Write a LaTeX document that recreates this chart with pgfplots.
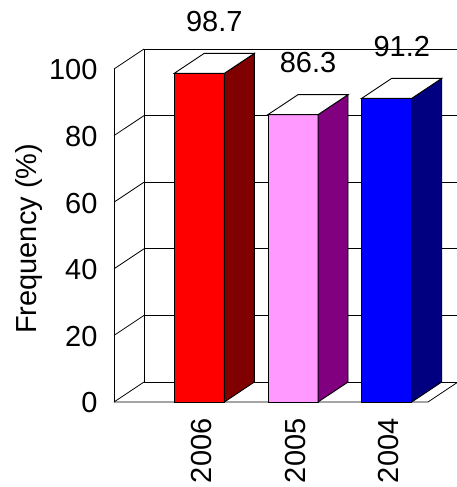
\documentclass[border=0pt]{standalone}
\usepackage{pgfplots}
\pgfplotsset{compat=1.18}
\usepackage{pgfplotstable}
\usepackage{fontspec}
\setmainfont{Liberation Sans}

\definecolor{barRed}{RGB}{255,0,0}
\definecolor{barRedSide}{RGB}{128,0,0}
\definecolor{barPink}{RGB}{255,153,255}
\definecolor{barPinkSide}{RGB}{128,0,128}
\definecolor{barBlue}{RGB}{0,0,255}
\definecolor{barBlueSide}{RGB}{0,0,128}

\pgfplotstableread{
idx year value
0 2006 98.7
1 2005 86.3
2 2004 91.2
}\freqtable

% geometry of the 3-D look, in axis units
\def\hw{0.267}   % half bar width
\def\ddx{0.32}   % depth shift along x
\def\ddy{6}      % depth shift along y
\def\xlo{-0.91}
\def\xhi{2.44}
\pgfmathsetmacro\xbk{\xlo+\ddx}
\pgfmathsetmacro\xrb{\xhi+\ddx}
\pgfmathsetmacro\xfar{\xhi+\ddx+0.3}

\newcommand\bigfont{\fontsize{29bp}{34bp}\selectfont}

% one 3-D column: front face, side face, top face and value label
\newcommand\barfaces[3]{%
  \pgfplotstablegetelem{#1}{value}\of\freqtable
  \let\barval\pgfplotsretval
  \pgfmathsetmacro\xa{#1-\hw}%
  \pgfmathsetmacro\xb{#1+\hw}%
  \pgfmathsetmacro\xc{#1+\hw+\ddx}%
  \pgfmathsetmacro\xd{#1-\hw+\ddx}%
  \pgfmathsetmacro\xm{#1+\ddx/2}%
  \pgfmathsetmacro\vtop{\barval+\ddy}%
  \pgfmathsetmacro\vlab{\barval+15.6}%
  \edef\barcmd{%
    \noexpand\addplot[fill=#2, draw=black, line width=0.9bp]
      coordinates {(\xa,0) (\xb,0) (\xb,\barval) (\xa,\barval)} -- cycle;
    \noexpand\addplot[fill=#3, draw=black, line width=0.9bp]
      coordinates {(\xb,0) (\xc,\ddy) (\xc,\vtop) (\xb,\barval)} -- cycle;
    \noexpand\addplot[fill=white, draw=black, line width=0.9bp]
      coordinates {(\xa,\barval) (\xb,\barval) (\xc,\vtop) (\xd,\vtop)} -- cycle;
    \noexpand\node[font=\noexpand\bigfont, inner sep=0pt] at (axis cs:\xm,\vlab) {\barval};
  }\barcmd}

\begin{document}
\begin{tikzpicture}
\begin{axis}[
  scale only axis,
  width=314bp, height=333bp,
  xmin=\xlo, xmax=\xhi,
  ymin=0, ymax=100,
  clip=false,
  axis line style={draw=none},
  tick style={draw=none},
  major tick length=0pt,
  ytick={0,20,40,60,80,100},
  xtick={0,1,2},
  xticklabels from table={\freqtable}{year},
  /pgf/number format/assume math mode=true,
  ticklabel style={font=\bigfont},
  yticklabel style={xshift=-13bp, yshift=-1bp},
  xticklabel style={rotate=90, anchor=east, xshift=-13bp, yshift=-2bp},
  ylabel={Frequency (\%)},
  ylabel style={font=\bigfont, at={(axis description cs:-0.246,0.49)}, anchor=base, rotate=0},
]
% side wall and back wall with gridlines
\pgfplotsinvokeforeach{0,20,40,60,80,100}{
  \draw[black, line width=0.8bp] (axis cs:\xlo,#1) -- (axis cs:\xbk,#1+\ddy);
}
\pgfplotsinvokeforeach{6,26,46,66,86,106}{
  \draw[black, line width=0.8bp] (axis cs:\xbk,#1) -- (axis cs:\xfar,#1);
}
\draw[black, line width=0.8bp] (axis cs:\xlo,0) -- (axis cs:\xlo,100);
\draw[black, line width=0.8bp] (axis cs:\xbk,\ddy) -- (axis cs:\xbk,106);
% floor
\draw[black, line width=0.8bp] (axis cs:\xlo,0) -- (axis cs:\xhi,0) -- (axis cs:\xrb,\ddy);
% columns
\barfaces{0}{barRed}{barRedSide}
\barfaces{1}{barPink}{barPinkSide}
\barfaces{2}{barBlue}{barBlueSide}
\end{axis}
\pgfresetboundingbox
\path[use as bounding box] ([shift={(-114bp,-85bp)}]current axis.south west) rectangle ++(457bp,487bp);
\end{tikzpicture}
\end{document}
